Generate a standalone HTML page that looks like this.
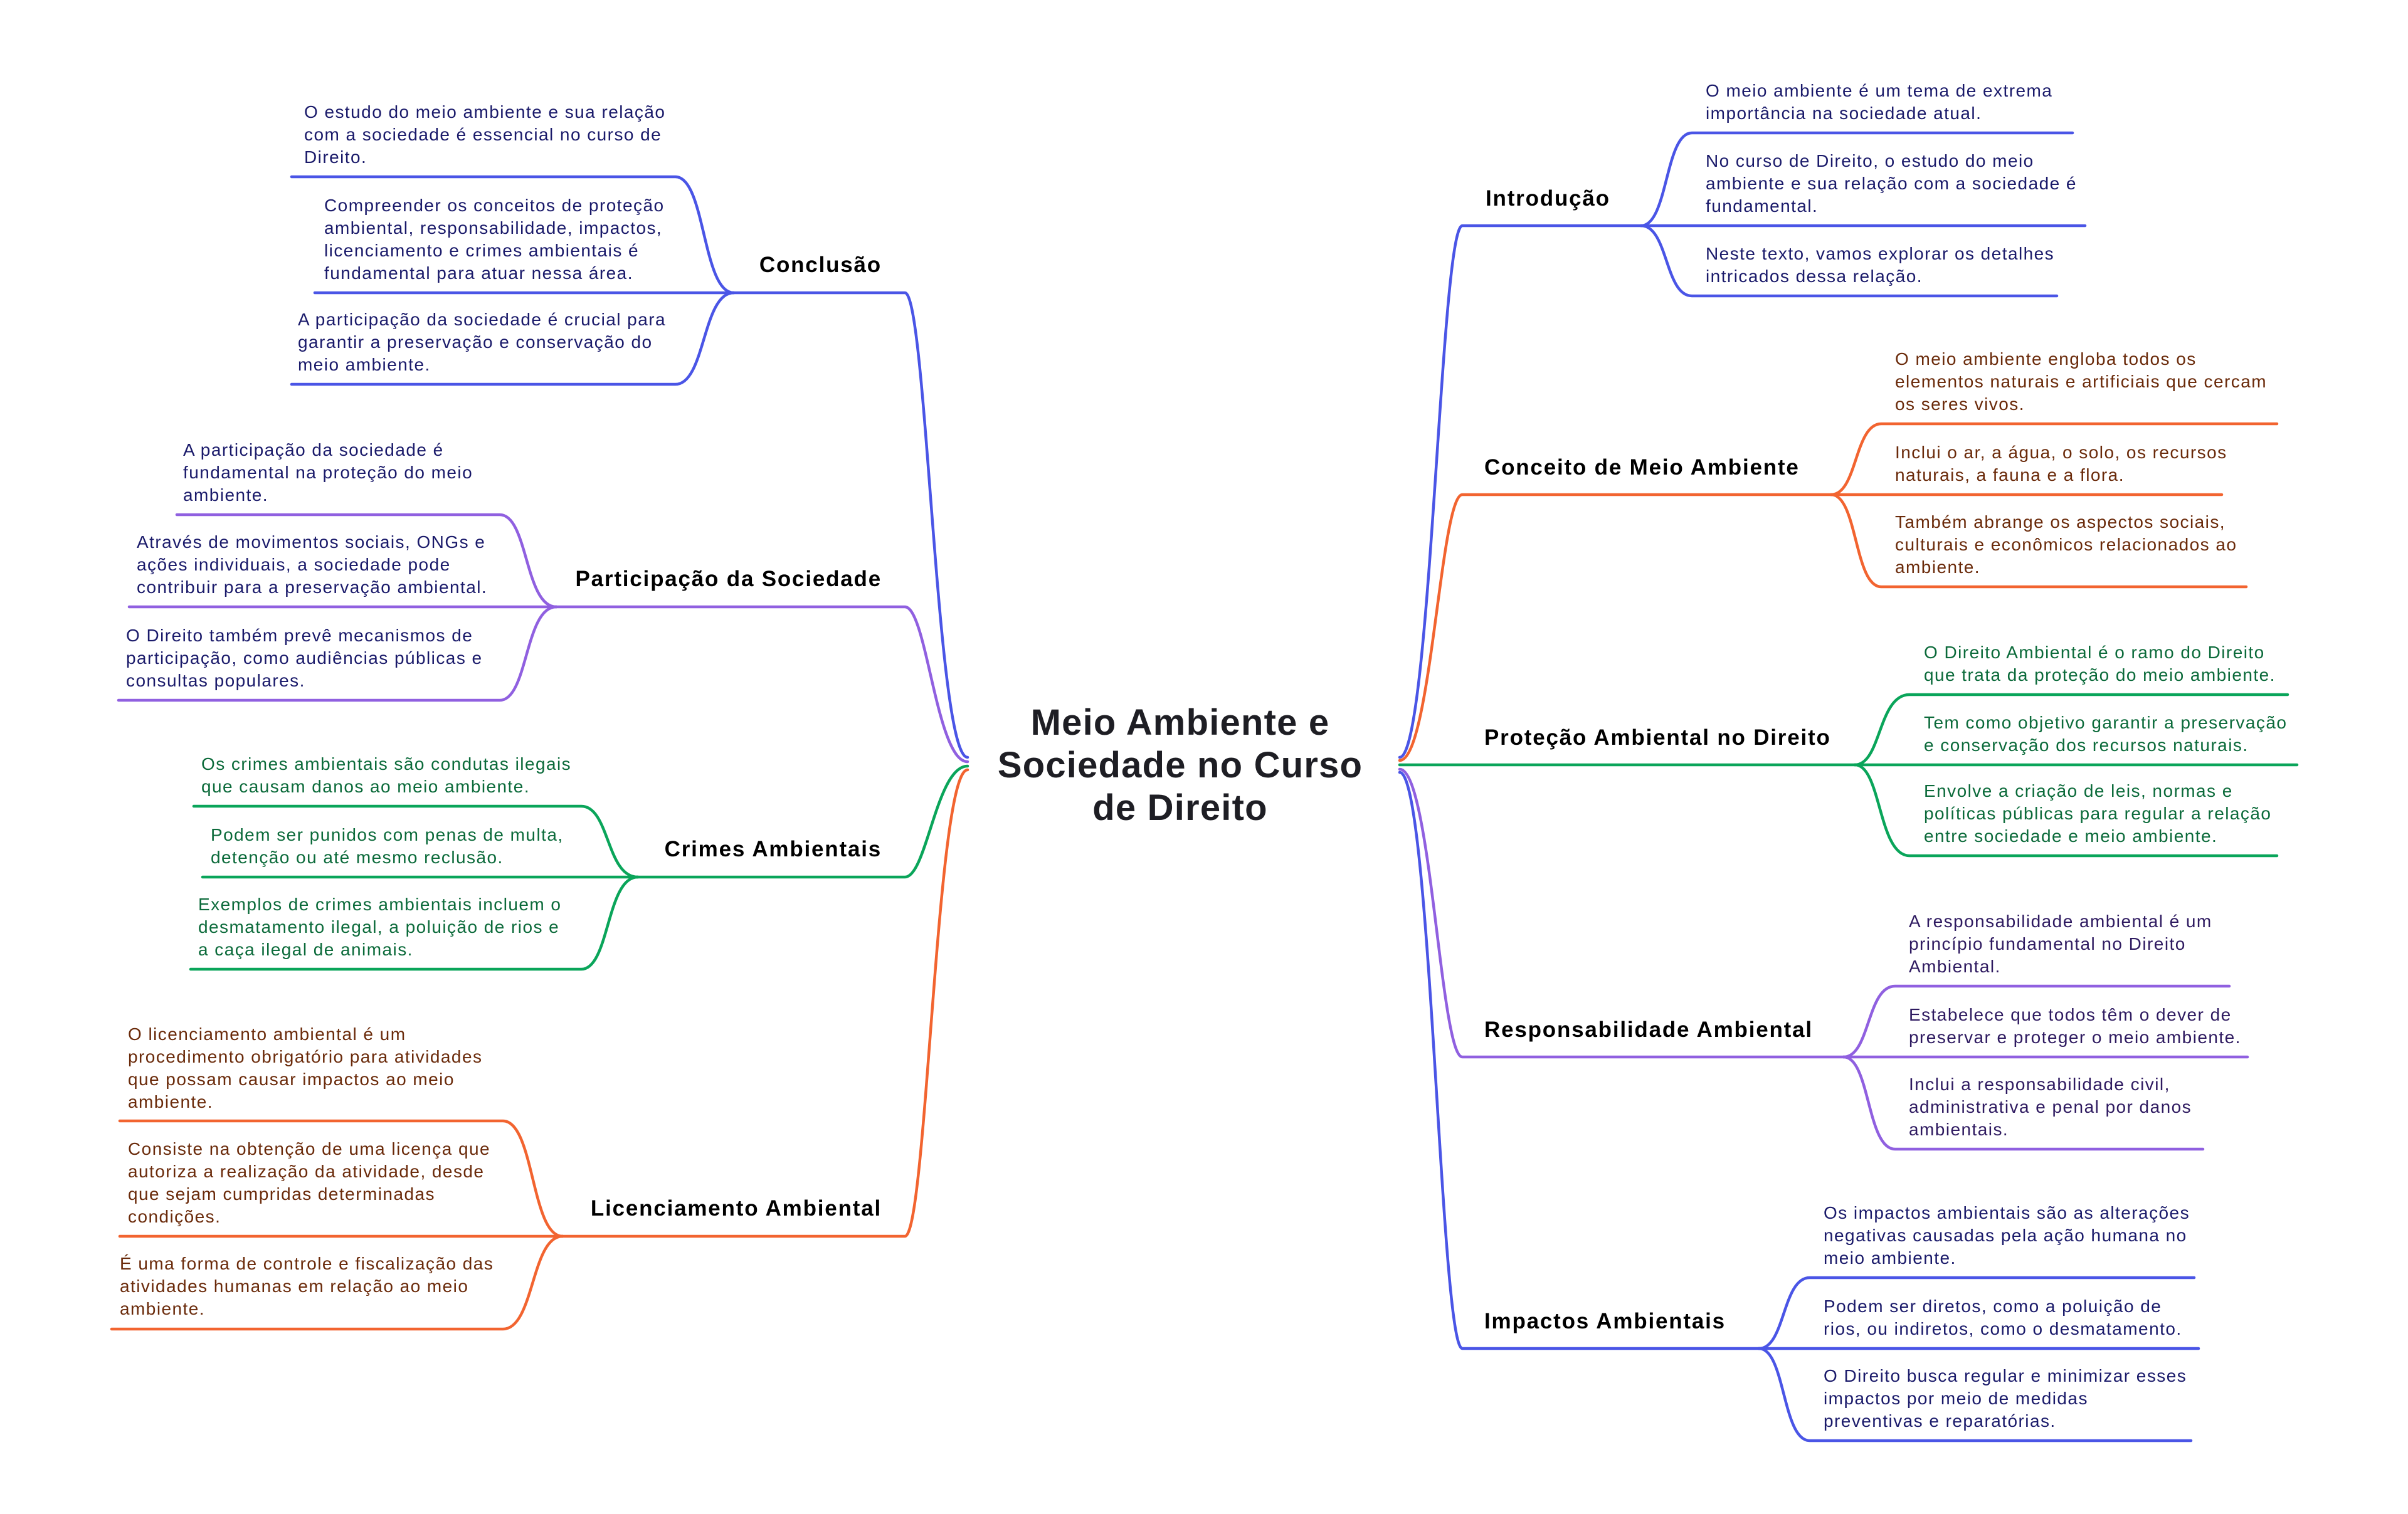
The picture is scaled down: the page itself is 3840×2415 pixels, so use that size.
<!DOCTYPE html>
<html><head><meta charset="utf-8"><style>
html,body{margin:0;padding:0;background:#fff;}
svg{display:block;}
.t{font-family:"Liberation Sans",sans-serif;font-size:28px;letter-spacing:1.45px;}
.l{font-family:"Liberation Sans",sans-serif;font-size:35px;font-weight:bold;letter-spacing:1.8px;fill:#000;}
.c{font-family:"Liberation Sans",sans-serif;font-size:58px;font-weight:bold;fill:#1e1e24;letter-spacing:1.2px;}
path{fill:none;stroke-width:4.5;stroke-linecap:round;}
.b{stroke:#4a55e6}.o{stroke:#f26430}.g{stroke:#0aa55a}.p{stroke:#9060e0}
.tb{fill:#1a1a6a}.to{fill:#6a2a0a}.tg{fill:#0b6a3a}.tp{fill:#2e1a60}
</style></head><body>
<svg width="3840" height="2415" viewBox="0 0 3840 2415" xmlns="http://www.w3.org/2000/svg">
<text class="c" x="1882" y="1172" text-anchor="middle">Meio Ambiente e</text>
<text class="c" x="1882" y="1240" text-anchor="middle">Sociedade no Curso</text>
<text class="c" x="1882" y="1308" text-anchor="middle">de Direito</text>

<path class="b" d="M2232 1208 C2282 1208 2297 360 2332 360 L2617 360"/>
<path class="o" d="M2232 1213 C2282 1213 2297 789 2332 789 L2920 789"/>
<path class="g" d="M2232 1220 L2958 1220"/>
<path class="p" d="M2232 1227 C2282 1227 2297 1686 2332 1686 L2940 1686"/>
<path class="b" d="M2232 1232 C2282 1232 2297 2151 2332 2151 L2805 2151"/>

<text class="l" x="2369" y="328">Introdução</text>
<path class="b" d="M2617 360 C2660 360 2655 212 2698 212 L3305 212"/>
<path class="b" d="M2617 360 L3325 360"/>
<path class="b" d="M2617 360 C2660 360 2655 472 2698 472 L3280 472"/>
<g class="t tb">
<text x="2720" y="154">O meio ambiente é um tema de extrema</text>
<text x="2720" y="190">importância na sociedade atual.</text>
<text x="2720" y="266">No curso de Direito, o estudo do meio</text>
<text x="2720" y="302">ambiente e sua relação com a sociedade é</text>
<text x="2720" y="338">fundamental.</text>
<text x="2720" y="414">Neste texto, vamos explorar os detalhes</text>
<text x="2720" y="450">intricados dessa relação.</text>
</g>

<text class="l" x="2367" y="757">Conceito de Meio Ambiente</text>
<path class="o" d="M2920 789 C2962 789 2957 676 3000 676 L3631 676"/>
<path class="o" d="M2920 789 L3543 789"/>
<path class="o" d="M2920 789 C2962 789 2957 936 3000 936 L3582 936"/>
<g class="t to">
<text x="3022" y="582">O meio ambiente engloba todos os</text>
<text x="3022" y="618">elementos naturais e artificiais que cercam</text>
<text x="3022" y="654">os seres vivos.</text>
<text x="3022" y="731">Inclui o ar, a água, o solo, os recursos</text>
<text x="3022" y="767">naturais, a fauna e a flora.</text>
<text x="3022" y="842">Também abrange os aspectos sociais,</text>
<text x="3022" y="878">culturais e econômicos relacionados ao</text>
<text x="3022" y="914">ambiente.</text>
</g>

<text class="l" x="2367" y="1188">Proteção Ambiental no Direito</text>
<path class="g" d="M2958 1220 C3000 1220 2995 1108 3045 1108 L3648 1108"/>
<path class="g" d="M2958 1220 L3663 1220"/>
<path class="g" d="M2958 1220 C3000 1220 2995 1365 3045 1365 L3631 1365"/>
<g class="t tg">
<text x="3068" y="1050">O Direito Ambiental é o ramo do Direito</text>
<text x="3068" y="1086">que trata da proteção do meio ambiente.</text>
<text x="3068" y="1162">Tem como objetivo garantir a preservação</text>
<text x="3068" y="1198">e conservação dos recursos naturais.</text>
<text x="3068" y="1271">Envolve a criação de leis, normas e</text>
<text x="3068" y="1307">políticas públicas para regular a relação</text>
<text x="3068" y="1343">entre sociedade e meio ambiente.</text>
</g>

<text class="l" x="2367" y="1654">Responsabilidade Ambiental</text>
<path class="p" d="M2940 1686 C2982 1686 2977 1573 3022 1573 L3555 1573"/>
<path class="p" d="M2940 1686 L3584 1686"/>
<path class="p" d="M2940 1686 C2982 1686 2977 1833 3022 1833 L3513 1833"/>
<g class="t tp">
<text x="3044" y="1479">A responsabilidade ambiental é um</text>
<text x="3044" y="1515">princípio fundamental no Direito</text>
<text x="3044" y="1551">Ambiental.</text>
<text x="3044" y="1628">Estabelece que todos têm o dever de</text>
<text x="3044" y="1664">preservar e proteger o meio ambiente.</text>
<text x="3044" y="1739">Inclui a responsabilidade civil,</text>
<text x="3044" y="1775">administrativa e penal por danos</text>
<text x="3044" y="1811">ambientais.</text>
</g>

<text class="l" x="2367" y="2119">Impactos Ambientais</text>
<path class="b" d="M2805 2151 C2847 2151 2842 2038 2886 2038 L3499 2038"/>
<path class="b" d="M2805 2151 L3506 2151"/>
<path class="b" d="M2805 2151 C2847 2151 2842 2298 2886 2298 L3494 2298"/>
<g class="t tb">
<text x="2908" y="1944">Os impactos ambientais são as alterações</text>
<text x="2908" y="1980">negativas causadas pela ação humana no</text>
<text x="2908" y="2016">meio ambiente.</text>
<text x="2908" y="2093">Podem ser diretos, como a poluição de</text>
<text x="2908" y="2129">rios, ou indiretos, como o desmatamento.</text>
<text x="2908" y="2204">O Direito busca regular e minimizar esses</text>
<text x="2908" y="2240">impactos por meio de medidas</text>
<text x="2908" y="2276">preventivas e reparatórias.</text>
</g>

<path class="b" d="M1543 1208 C1493 1208 1478 467 1443 467 L1170 467"/>
<path class="p" d="M1543 1215 C1493 1215 1478 968 1443 968 L887 968"/>
<path class="g" d="M1543 1222 C1493 1222 1478 1399 1443 1399 L1017 1399"/>
<path class="o" d="M1543 1228 C1493 1228 1478 1972 1443 1972 L897 1972"/>

<text class="l" x="1406" y="434" text-anchor="end">Conclusão</text>
<path class="b" d="M1170 467 C1120 467 1125 282 1077 282 L465 282"/>
<path class="b" d="M1170 467 L502 467"/>
<path class="b" d="M1170 467 C1120 467 1125 613 1077 613 L465 613"/>
<g class="t tb">
<text x="485" y="188">O estudo do meio ambiente e sua relação</text>
<text x="485" y="224">com a sociedade é essencial no curso de</text>
<text x="485" y="260">Direito.</text>
<text x="517" y="337">Compreender os conceitos de proteção</text>
<text x="517" y="373">ambiental, responsabilidade, impactos,</text>
<text x="517" y="409">licenciamento e crimes ambientais é</text>
<text x="517" y="445">fundamental para atuar nessa área.</text>
<text x="475" y="519">A participação da sociedade é crucial para</text>
<text x="475" y="555">garantir a preservação e conservação do</text>
<text x="475" y="591">meio ambiente.</text>
</g>

<text class="l" x="1406" y="935" text-anchor="end">Participação da Sociedade</text>
<path class="p" d="M887 968 C837 968 842 821 797 821 L282 821"/>
<path class="p" d="M887 968 L206 968"/>
<path class="p" d="M887 968 C837 968 842 1117 797 1117 L189 1117"/>
<g class="t tb">
<text x="292" y="727">A participação da sociedade é</text>
<text x="292" y="763">fundamental na proteção do meio</text>
<text x="292" y="799">ambiente.</text>
<text x="218" y="874">Através de movimentos sociais, ONGs e</text>
<text x="218" y="910">ações individuais, a sociedade pode</text>
<text x="218" y="946">contribuir para a preservação ambiental.</text>
<text x="201" y="1023">O Direito também prevê mecanismos de</text>
<text x="201" y="1059">participação, como audiências públicas e</text>
<text x="201" y="1095">consultas populares.</text>
</g>

<text class="l" x="1406" y="1366" text-anchor="end">Crimes Ambientais</text>
<path class="g" d="M1017 1399 C967 1399 972 1286 927 1286 L309 1286"/>
<path class="g" d="M1017 1399 L323 1399"/>
<path class="g" d="M1017 1399 C967 1399 972 1546 927 1546 L304 1546"/>
<g class="t tg">
<text x="321" y="1228">Os crimes ambientais são condutas ilegais</text>
<text x="321" y="1264">que causam danos ao meio ambiente.</text>
<text x="336" y="1341">Podem ser punidos com penas de multa,</text>
<text x="336" y="1377">detenção ou até mesmo reclusão.</text>
<text x="316" y="1452">Exemplos de crimes ambientais incluem o</text>
<text x="316" y="1488">desmatamento ilegal, a poluição de rios e</text>
<text x="316" y="1524">a caça ilegal de animais.</text>
</g>

<text class="l" x="1406" y="1939" text-anchor="end">Licenciamento Ambiental</text>
<path class="o" d="M897 1972 C847 1972 852 1788 802 1788 L191 1788"/>
<path class="o" d="M897 1972 L191 1972"/>
<path class="o" d="M897 1972 C847 1972 852 2120 802 2120 L178 2120"/>
<g class="t to">
<text x="204" y="1659">O licenciamento ambiental é um</text>
<text x="204" y="1695">procedimento obrigatório para atividades</text>
<text x="204" y="1731">que possam causar impactos ao meio</text>
<text x="204" y="1767">ambiente.</text>
<text x="204" y="1842">Consiste na obtenção de uma licença que</text>
<text x="204" y="1878">autoriza a realização da atividade, desde</text>
<text x="204" y="1914">que sejam cumpridas determinadas</text>
<text x="204" y="1950">condições.</text>
<text x="191" y="2025">É uma forma de controle e fiscalização das</text>
<text x="191" y="2061">atividades humanas em relação ao meio</text>
<text x="191" y="2097">ambiente.</text>
</g>
</svg>
</body></html>
